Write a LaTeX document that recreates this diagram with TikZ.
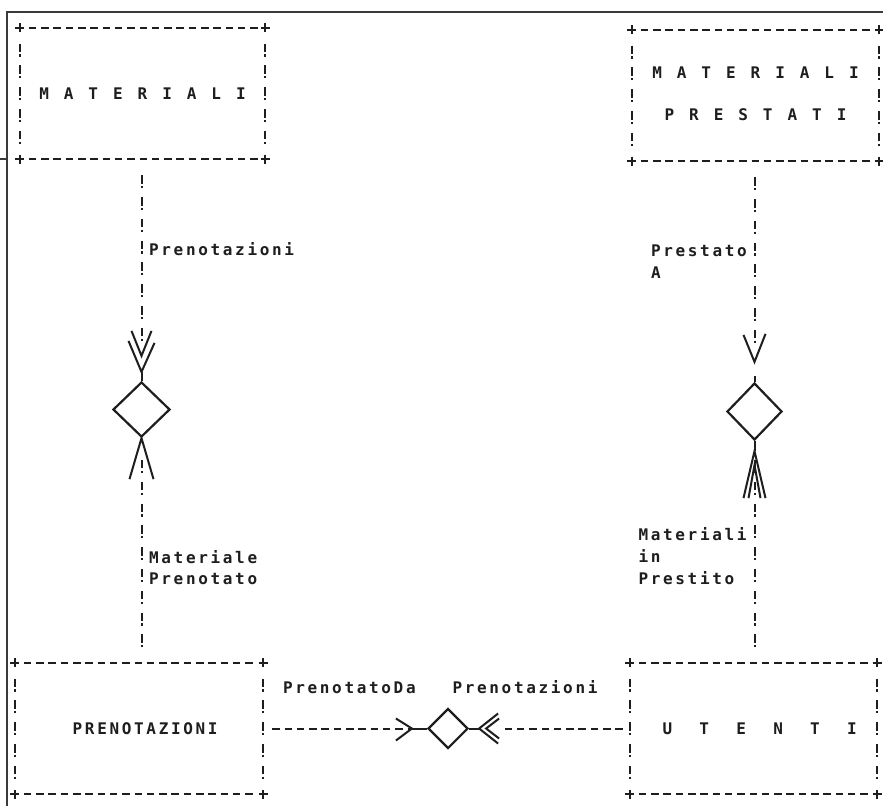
\documentclass[tikz,border=0pt]{standalone}
\usepackage{fontspec}
\usetikzlibrary{shapes.geometric,calc}
\newfontfamily\dotfont{DejaVu Sans Mono Bold}
\definecolor{inkc}{HTML}{1E1E1E}
\definecolor{framec}{HTML}{3A3A3A}
\ExplSyntaxOn
\NewDocumentCommand\mono{m}
 {
  \str_map_inline:nn {#1}
   {
    \makebox[12.3pt][c]{\str_if_eq:nnF {##1} {_} {##1}}
   }
 }
\ExplSyntaxOff
\tikzset{
  ink/.style={draw=inkc, line width=2pt},
  hdash/.style={draw=inkc, line width=2pt, dash pattern=on 7.5pt off 4.8pt},
  bangdown/.style={draw=inkc, line width=2pt, dash pattern=on 8.5pt off 2.3pt on 2.2pt off 8.8pt},
  bangup/.style={draw=inkc, line width=2pt, dash pattern=on 2.2pt off 2.3pt on 8.5pt off 8.8pt},
  txt/.style={font=\dotfont\fontsize{16}{20}\selectfont, text=inkc},
  abox/.style={txt, rectangle, inner sep=0pt, minimum height=131pt},
  rel/.style={diamond, draw=inkc, line width=2.2pt, inner sep=0pt},
  lbl/.style={txt, inner sep=0pt, anchor=base west},
  head/.style={draw=inkc, line width=2pt, solid, line join=miter},
  frame/.style={draw=framec, line width=2.2pt},
  pluscorner/.pic={\draw[draw=inkc, line width=2pt] (-4.5,0)--(4.5,0) (0,-4.5)--(0,4.5);}
}
\begin{document}
\begin{tikzpicture}[x=1pt,y=-1pt]
\useasboundingbox[fill=white] (0,0) rectangle (883,806);

% page frame
\coordinate (fTL) at (7,12);
\coordinate (fTR) at (883,12);
\coordinate (fBL) at (7,806);
\coordinate (tk) at (0,159);
\draw[frame] (fTR) -- (fTL) -- (fBL);
\draw[frame] (tk) -- (tk -| fTL);

% entity boxes
\node[abox, minimum width=245pt] (mat) at (142.5,93.5)
  {\raisebox{-2.5pt}{\mono{M A T E R I A L I}}};
\node[abox, minimum width=247pt] (matp) at (755.5,95.5)
  {\raisebox{-5pt}{\begin{tabular}{@{}c@{}}\mono{M A T E R I A L I}\\[22pt]\mono{P R E S T A T I}\end{tabular}}};
\node[abox, minimum width=248pt] (pren) at (139,728.5)
  {\hspace*{12.3pt}\mono{PRENOTAZIONI}};
\node[abox, minimum width=247pt] (ute) at (753.5,728.5)
  {\hspace*{12.3pt}\mono{U__T__E__N__T__I}};

\foreach \b in {mat,matp,pren,ute}{
  \draw[hdash, shorten <=9pt, shorten >=6pt] (\b.north west) -- (\b.north east);
  \draw[hdash, shorten <=9pt, shorten >=6pt] (\b.south west) -- (\b.south east);
  \draw[bangdown, shorten <=15.8pt, shorten >=10pt] (\b.north west) -- (\b.south west);
  \draw[bangdown, shorten <=15.8pt, shorten >=10pt] (\b.north east) -- (\b.south east);
  \foreach \c in {north west,north east,south west,south east}
    \pic at (\b.\c) {pluscorner};
}

% relationship diamonds
\node[rel, minimum width=57pt, minimum height=55pt] (d1) at (141.5,409.5) {};
\node[rel, minimum width=55pt, minimum height=57pt] (d2) at (754.5,411.5) {};
\node[rel, minimum width=40pt, minimum height=40pt] (d3) at (448,728.5) {};

% vertical connectors
\draw[bangdown, shorten <=16pt, shorten >=37pt] (d1.north |- mat.south) -- (d1.north);
\draw[bangup, shorten <=15.5pt, shorten >=18pt] (d1.south |- pren.north) -- (d1.south);
\draw[bangdown, shorten <=16pt, shorten >=33pt] (d2.north |- matp.south) -- (d2.north);
\draw[bangup, shorten <=15.5pt, shorten >=18pt] (d2.south |- ute.north) -- (d2.south);

% horizontal connectors
\draw[hdash, shorten <=9pt, shorten >=17pt] (pren.east) -- (d3.west);
\draw[hdash, shorten <=7pt, shorten >=31pt] (ute.west) -- (d3.east);

% arrow heads
\begin{scope}[shift={(d1.north)}]
  \draw[head] (0,0) -- (0,-9);
  \draw[head] (-13,-40) -- (0,-9) -- (13,-38);
  \draw[head] (-10,-50) -- (0,-25) -- (10,-50);
\end{scope}
\begin{scope}[shift={(d1.south)}]
  \draw[head] (-12,41) -- (0,0) -- (12,41);
\end{scope}
\begin{scope}[shift={(d2.north)}]
  \draw[head] (0,0) -- (0,-6);
  \draw[head] (-11,-47) -- (0,-20) -- (11,-48);
\end{scope}
\begin{scope}[shift={(d2.south)}]
  \draw[head] (0,0) -- (0,10);
  \draw[head] (-11,57) -- (0,10) -- (11,57);
  \draw[head] (-6,57) -- (0,24) -- (6,57);
\end{scope}
\begin{scope}[shift={(d3.west)}]
  \draw[head] (0,0) -- (-15,0);
  \draw[head] (-31,-10) -- (-15,0) -- (-31,12);
\end{scope}
\begin{scope}[shift={(d3.east)}]
  \draw[head] (0,0) -- (10,0);
  \draw[head] (29,-15) -- (10,0) -- (29,15);
  \draw[head] (30,-10) -- (17,0) -- (30,10);
\end{scope}

% role labels
\node[lbl] (lPren) at (147.6,255) {\mono{Prenotazioni}};
\node[lbl] (lMat) at (147.6,563) {\mono{Materiale}};
\node[lbl] (lPrn) at (147.6,584) {\mono{Prenotato}};
\node[lbl] (lPa) at (649.5,256) {\mono{Prestato}};
\node[lbl] (lA) at (649.5,278) {\mono{A}};
\node[lbl] (lMi) at (637,540.5) {\mono{Materiali}};
\node[lbl] (lIn) at (637,562.5) {\mono{in}};
\node[lbl] (lPs) at (637,584) {\mono{Prestito}};
\node[lbl] (lPD) at (281.5,693) {\mono{PrenotatoDa}};
\node[lbl] (lPz) at (451,693) {\mono{Prenotazioni}};
\end{tikzpicture}
\end{document}
